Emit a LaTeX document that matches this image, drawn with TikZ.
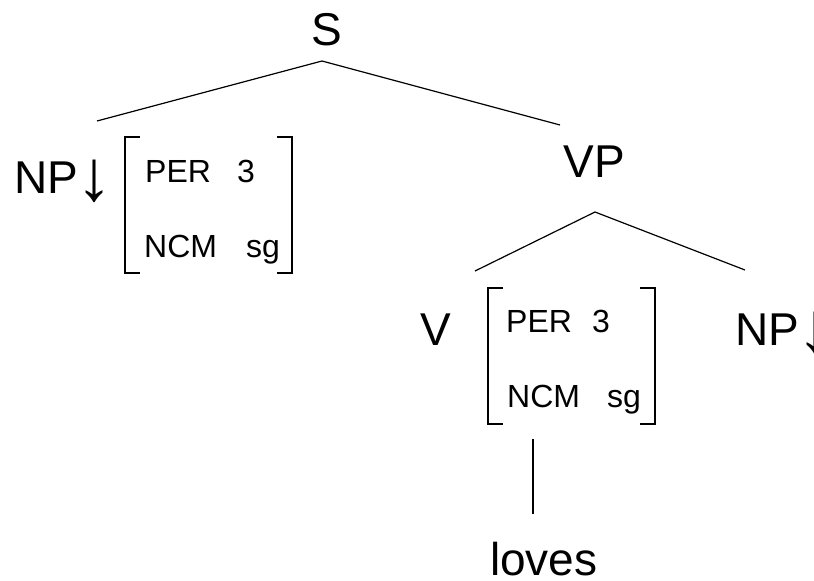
\documentclass[tikz,border=0pt]{standalone}
\usepackage{fontspec}
\setmainfont{Liberation Sans}
\newcommand{\dnarrow}{\kern-2pt\raisebox{-7pt}{\fontsize{72}{72}\selectfont ↓}}
\begin{document}
\begin{tikzpicture}[x=1pt,y=1pt,
  big/.style={inner sep=0pt,anchor=base west,font=\fontsize{46}{50}\selectfont},
  small/.style={inner sep=0pt,anchor=base west,font=\fontsize{32}{36}\selectfont},
  edge/.style={line width=1.2pt},
  brk/.style={line width=1.2pt}]
\useasboundingbox (0,0) rectangle (814,-581);
% labels
\node[big,anchor=base] (S) at (327,-45) {S};
\node[big] (NPl) at (14,-193) {NP\dnarrow};
\node[big,anchor=base] (VP) at (594,-177) {VP};
\node[big] (V) at (420,-345) {V};
\node[big] (NPr) at (735,-345) {NP\dnarrow};
\node[big] (loves) at (490,-575) {loves};
% left AVM
\node[small] (perL) at (145,-182) {PER};
\node[small] (threeL) at (237,-182) {3};
\node[small] (ncmL) at (144,-257) {NCM};
\node[small] (sgL) at (246,-257) {sg};
\draw[brk] (140,-137) -- (125,-137) -- (125,-273) -- (140,-273);
\draw[brk] (277,-137) -- (292,-137) -- (292,-273) -- (277,-273);
% right AVM
\node[small] (perR) at (506,-332) {PER};
\node[small] (threeR) at (592,-332) {3};
\node[small] (ncmR) at (507,-407) {NCM};
\node[small] (sgR) at (607,-407) {sg};
\draw[brk] (503,-288) -- (488,-288) -- (488,-424) -- (503,-424);
\draw[brk] (640,-288) -- (655,-288) -- (655,-424) -- (640,-424);
% edges
\coordinate (sA) at (322,-61);
\coordinate (sL) at (97,-121);
\coordinate (sR) at (560,-125);
\coordinate (vpA) at (595,-212);
\coordinate (vpL) at (475,-271);
\coordinate (vpR) at (745,-270);
\coordinate (vT) at (533,-439);
\coordinate (vB) at (533,-514);
\draw[edge] (sL) -- (sA) -- (sR);
\draw[edge] (vpL) -- (vpA) -- (vpR);
\draw[edge] (vT) -- (vB);
\end{tikzpicture}
\end{document}
